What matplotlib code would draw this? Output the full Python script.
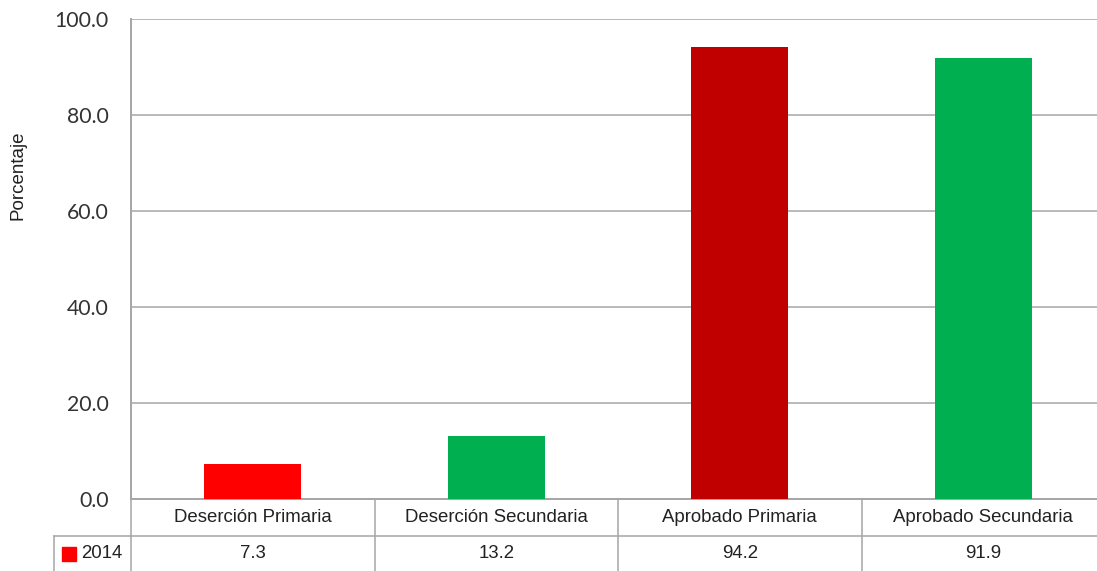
"""Bar chart with Excel-style data table: deserción / aprobado 2014."""

import matplotlib

matplotlib.use("Agg")
import matplotlib.pyplot as plt
from matplotlib.transforms import blended_transform_factory

W, H = 1097, 571
DPI = 100

CATEGORIES = [
    "Deserción Primaria",
    "Deserción Secundaria",
    "Aprobado Primaria",
    "Aprobado Secundaria",
]
VALUES_2014 = [7.3, 13.2, 94.2, 91.9]
BAR_COLORS = ["#FF0000", "#00B050", "#C00000", "#00B050"]
SERIES_NAME = "2014"
SERIES_COLOR = "#FF0000"
Y_TICKS = [0, 20, 40, 60, 80, 100]

GRID = "#A6A6A6"
TABLE_FONT = "Liberation Sans"
TICK_FONT = "Lato"
TABLE_SIZE = 13.4


def px_x(p):
    return p / W


def px_y(p):
    return 1 - p / H


fig = plt.figure(figsize=(W / DPI, H / DPI), dpi=DPI)

# plot area: left 131, top 19, bottom 499, right 1105 (just past the image edge)
left, top, bottom, right = 131, 19, 499, 1105
ax = fig.add_axes([px_x(left), px_y(bottom), px_x(right - left), (bottom - top) / H])

x = list(range(len(CATEGORIES)))
ax.bar(x, VALUES_2014, width=0.4, color=BAR_COLORS, zorder=3)
ax.set_xlim(-0.5, len(CATEGORIES) - 0.5)
ax.set_ylim(0, 100)

ax.set_yticks(Y_TICKS)
ax.set_yticklabels([f"{v:.1f}" for v in Y_TICKS], fontfamily=TICK_FONT,
                   fontsize=15.3, color="#333333")
ax.tick_params(axis="y", length=0, pad=16)
ax.set_xticks([])
ax.grid(axis="y", color=GRID, linewidth=1.1, zorder=0)

for side in ("top", "right"):
    ax.spines[side].set_visible(False)
for side in ("left", "bottom"):
    ax.spines[side].set_color(GRID)
    ax.spines[side].set_linewidth(1.4)

fig.text(px_x(18), px_y(175), "Porcentaje", rotation=90, ha="center",
         va="center", fontfamily=TABLE_FONT, fontsize=13.5, color="#222222")

# data table below the axis
tr = blended_transform_factory(ax.transData, ax.transAxes)
row_h = 37 / (bottom - top)
tab_bottom = -72 / (bottom - top)
x_first = -0.5 - (left - 54) / ((right - left) / len(CATEGORIES))
line_kw = dict(color=GRID, linewidth=1.1, transform=tr, clip_on=False)

ax.plot([-0.5, len(CATEGORIES) - 0.5 + 0.01], [-row_h, -row_h], **line_kw)
ax.plot([x_first, -0.5], [-row_h, -row_h], **line_kw)
ax.plot([x_first, x_first], [-row_h, tab_bottom], **line_kw)
ax.plot([-0.5, -0.5], [0, tab_bottom], **line_kw)
for i in range(1, len(CATEGORIES) + 1):
    ax.plot([i - 0.5, i - 0.5], [0, tab_bottom], **line_kw)

for i, (cat, val) in enumerate(zip(CATEGORIES, VALUES_2014)):
    ax.text(i, -row_h / 2, cat, transform=tr, ha="center", va="center",
            fontfamily=TABLE_FONT, fontsize=TABLE_SIZE, color="#222222")
    ax.text(i, (-row_h + tab_bottom) / 2, f"{val:.1f}", transform=tr,
            ha="center", va="center", fontfamily=TABLE_FONT,
            fontsize=TABLE_SIZE, color="#222222")

unit = (right - left) / len(CATEGORIES)
ax.plot([-0.5 - (left - 69) / unit], [(-row_h + tab_bottom) / 2], marker="s",
        markersize=9.5, color=SERIES_COLOR, transform=tr, clip_on=False,
        linestyle="")
ax.text(-0.5 - (left - 81) / unit, (-row_h + tab_bottom) / 2, SERIES_NAME,
        transform=tr, ha="left", va="center", fontfamily=TABLE_FONT,
        fontsize=TABLE_SIZE, color="#222222")

fig.savefig("out.png", dpi=DPI)
